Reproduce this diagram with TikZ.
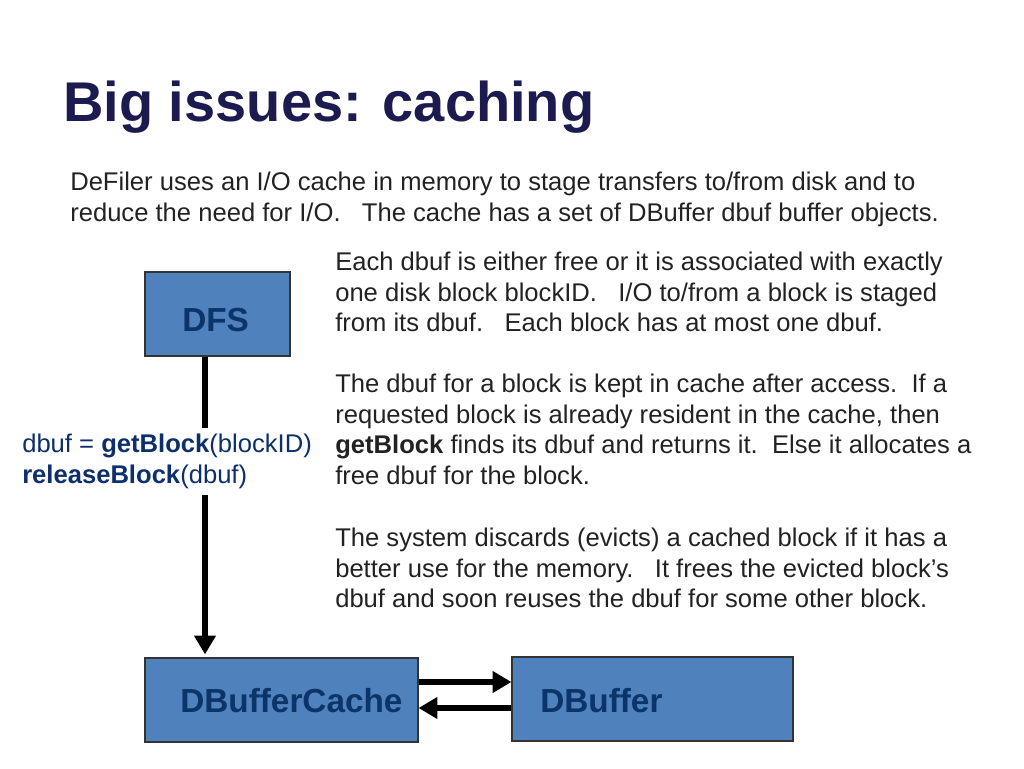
\documentclass[tikz,border=0pt]{standalone}
\usepackage{fontspec}
\setmainfont{Liberation Sans}
\usetikzlibrary{arrows.meta,calc}
\definecolor{titlecol}{HTML}{1B1B4F}
\definecolor{bodycol}{HTML}{222222}
\definecolor{boxfill}{HTML}{4F81BD}
\definecolor{boxtextcol}{HTML}{0B3468}
\definecolor{labelcol}{HTML}{0D2F6B}
\tikzset{
  box/.style={draw=black!80, line width=0.9pt, fill=boxfill, inner sep=0pt},
  boxtext/.style={font=\fontsize{25}{30}\selectfont\bfseries, text=boxtextcol, inner sep=0pt},
  body/.style={font=\fontsize{19.2}{22.9}\selectfont, text=bodycol, inner sep=0pt, align=left},
  bigarrow/.style={line width=5.2pt, -{Triangle[length=14pt,width=15.5pt]}},
  sidearrow/.style={line width=5.2pt, -{Triangle[length=14pt,width=15.5pt]}},
}
\begin{document}
\begin{tikzpicture}[x=0.75pt,y=-0.75pt]
\useasboundingbox (0,0) rectangle (1024,768);
% title
\node[anchor=base west, inner sep=0pt, font=\fontsize{42}{50}\selectfont\bfseries, text=titlecol] (title) at (63,121) {Big issues: caching};
% intro
\node[body, anchor=north west] (intro) at (70,172) {DeFiler uses an I/O cache in memory to stage transfers to/from disk and to\\reduce the need for I/O.\ \ \ The cache has a set of DBuffer dbuf buffer objects.};
% right paragraphs
\node[body, anchor=north west] (p1) at (335,252) {Each dbuf is either free or it is associated with exactly\\one disk block blockID.\ \ \ I/O to/from a block is staged\\from its dbuf.\ \ \ Each block has at most one dbuf.};
\node[body, anchor=north west] (p2) at (335,374) {The dbuf for a block is kept in cache after access.\ \ If a\\requested block is already resident in the cache, then\\\textbf{getBlock} finds its dbuf and returns it.\ \ Else it allocates a\\free dbuf for the block.};
\node[body, anchor=north west] (p3) at (335,528) {The system discards (evicts) a cached block if it has a\\better use for the memory.\ \ \ It frees the evicted block’s\\dbuf and soon reuses the dbuf for some other block.};
% boxes
\node[box, minimum width={145*0.75pt}, minimum height={84*0.75pt}] (dfs) at (217.5,314) {};
\node[box, minimum width={273*0.75pt}, minimum height={84*0.75pt}] (cache) at (281.5,700) {};
\node[box, minimum width={281*0.75pt}, minimum height={84*0.75pt}] (dbuffer) at (652.5,699) {};
\node[boxtext, anchor=base west] (dfst) at (182,331) {DFS};
\node[boxtext, anchor=base west] (cachet) at (180,712) {DBufferCache};
\node[boxtext, anchor=base west] (dbuffert) at (540,712) {DBuffer};
% vertical connector
\coordinate (vx) at (205,0);
\draw[bigarrow] (dfs.south -| vx) -- ([yshift={3*0.75pt}]cache.north -| vx);
\node[body, text=labelcol, fill=white, anchor=north west, inner xsep=0pt, inner ysep={6*0.75pt}] (lbl) at (22,428) {dbuf = \textbf{getBlock}(blockID)\\\textbf{releaseBlock}(dbuf)};
% horizontal connectors
\draw[sidearrow] ([yshift={18*0.75pt}]cache.east) -- ([yshift={18*0.75pt}]cache.east -| dbuffer.west);
\draw[sidearrow] ([yshift={-8*0.75pt}]cache.east -| dbuffer.west) -- ([yshift={-8*0.75pt}]cache.east);
\end{tikzpicture}
\end{document}
